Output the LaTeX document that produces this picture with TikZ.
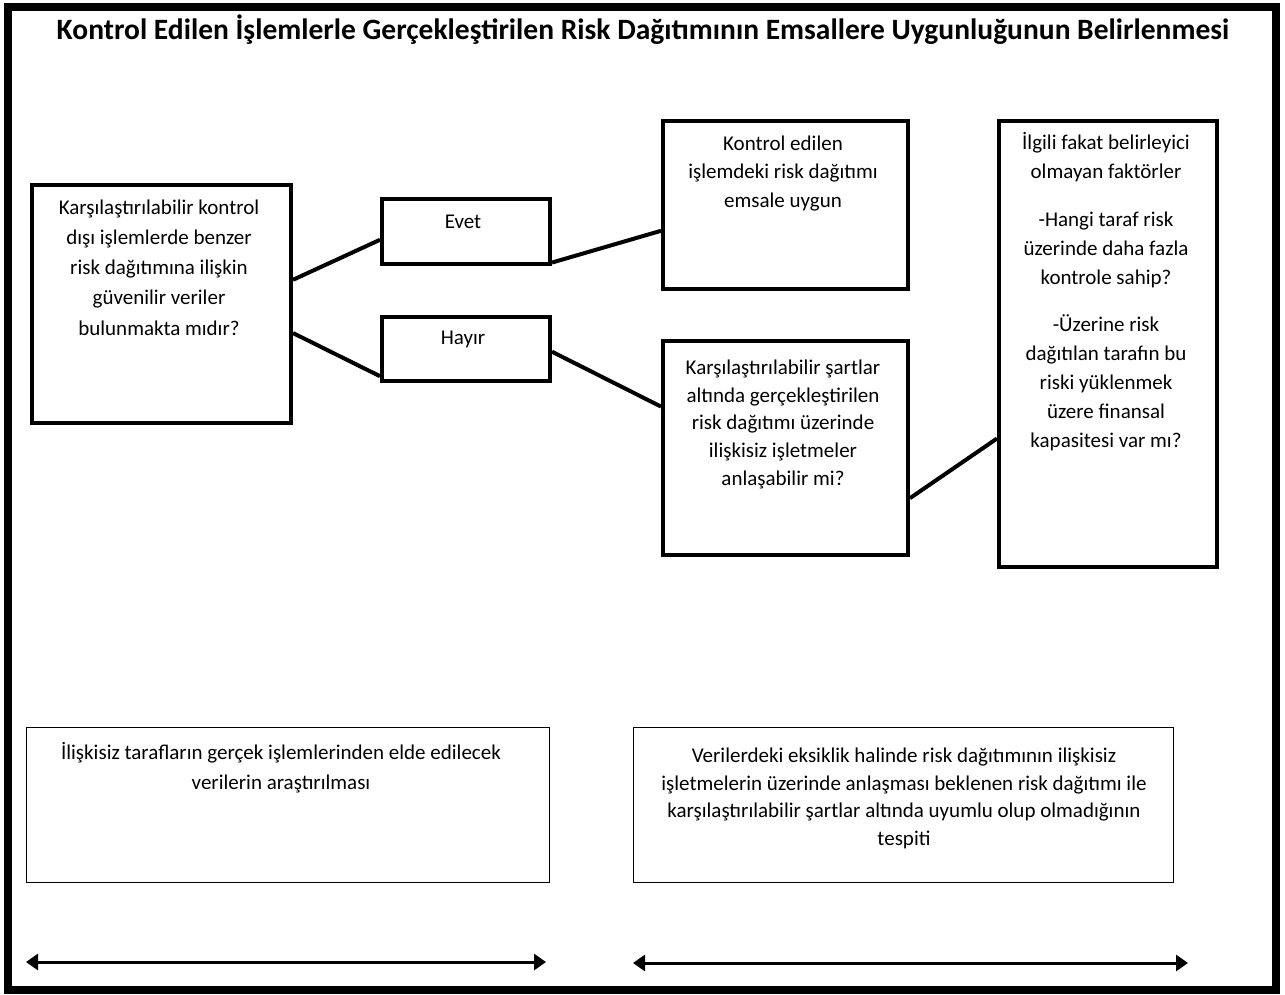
\documentclass[tikz,border=0pt]{standalone}
\usepackage{fontspec}
\setmainfont{Carlito}
\usetikzlibrary{arrows.meta,calc}
\newcommand\firststrut{\rule{0pt}{17pt}}
\begin{document}
\begin{tikzpicture}[x=1pt,y=-1pt,
  thickbox/.style={draw, line width=4pt, inner sep=0pt, anchor=north west},
  thinbox/.style={draw, line width=1pt, inner sep=0pt, anchor=north west},
  txt/.style={anchor=north, align=center, inner sep=0pt, font=\fontsize{21}{28.5}\selectfont},
  conn/.style={line width=4pt},
  dblarrow/.style={line width=3pt, {Triangle[length=12pt,width=16pt]}-{Triangle[length=12pt,width=16pt]}}]
\useasboundingbox (0,0) rectangle (1285,994);
\draw[line width=8pt] (7.5,6.5) rectangle (1275.5,990);
\node[anchor=base, inner sep=0pt, font=\bfseries\fontsize{29.5}{32}\selectfont] (title) at (643,39)
  {Kontrol Edilen İşlemlerle Gerçekleştirilen Risk Dağıtımının Emsallere Uygunluğunun Belirlenmesi};
% boxes
\node[thickbox, minimum width=259pt, minimum height=238pt] (A) at (30,183) {};
\node[thickbox, minimum width=168pt, minimum height=65pt] (evet) at (380,197) {};
\node[thickbox, minimum width=168pt, minimum height=64pt] (hayir) at (380,315) {};
\node[thickbox, minimum width=245pt, minimum height=168pt] (ok) at (661,119) {};
\node[thickbox, minimum width=245pt, minimum height=214pt] (sart) at (661,339) {};
\node[thickbox, minimum width=218pt, minimum height=446pt] (fak) at (997,119) {};
\node[thinbox, minimum width=523pt, minimum height=155pt] (bl) at (26,727) {};
\node[thinbox, minimum width=540pt, minimum height=155pt] (br) at (633,727) {};
% texts
\node[txt, font=\fontsize{21}{30.2}\selectfont] (Atxt) at (159,197) {\firststrut Karşılaştırılabilir kontrol\\ dışı işlemlerde benzer\\ risk dağıtımına ilişkin\\ güvenilir veriler\\ bulunmakta mıdır?};
\node[txt] (evettxt) at (463,211) {\firststrut Evet};
\node[txt] (hayirtxt) at (463,327) {\firststrut Hayır};
\node[txt] (oktxt) at (783,133) {\firststrut Kontrol edilen\\ işlemdeki risk dağıtımı\\ emsale uygun};
\node[txt, font=\fontsize{21}{27.8}\selectfont] (sarttxt) at (783,357) {\firststrut Karşılaştırılabilir şartlar\\ altında gerçekleştirilen\\ risk dağıtımı üzerinde\\ ilişkisiz işletmeler\\ anlaşabilir mi?};
\node[txt, font=\fontsize{21}{29}\selectfont] (faktxt) at (1106,132) {\firststrut İlgili fakat belirleyici\\ olmayan faktörler\\[19pt] -Hangi taraf risk\\ üzerinde daha fazla\\ kontrole sahip?\\[18pt] -Üzerine risk\\ dağıtılan tarafın bu\\ riski yüklenmek\\ üzere finansal\\ kapasitesi var mı?};
\node[txt, font=\fontsize{21}{30}\selectfont] (bltxt) at (281,742) {\firststrut İlişkisiz tarafların gerçek işlemlerinden elde edilecek\\ verilerin araştırılması};
\node[txt, font=\fontsize{21}{27.8}\selectfont] (brtxt) at (904,745) {\firststrut Verilerdeki eksiklik halinde risk dağıtımının ilişkisiz\\ işletmelerin üzerinde anlaşması beklenen risk dağıtımı ile\\ karşılaştırılabilir şartlar altında uyumlu olup olmadığının\\ tespiti};
% connectors
\draw[conn] ($(A.north east)!0.40!(A.south east)$) -- ($(evet.north west)!0.62!(evet.south west)$);
\draw[conn] ($(A.north east)!0.62!(A.south east)$) -- ($(hayir.north west)!0.90!(hayir.south west)$);
\draw[conn] ($(evet.north east)!0.95!(evet.south east)$) -- ($(ok.north west)!0.65!(ok.south west)$);
\draw[conn] ($(hayir.north east)!0.54!(hayir.south east)$) -- ($(sart.north west)!0.31!(sart.south west)$);
\draw[conn] ($(sart.north east)!0.73!(sart.south east)$) -- ($(fak.north west)!0.71!(fak.south west)$);
% bottom arrows
\coordinate (l1) at (26,962);
\coordinate (l2) at (546,962);
\coordinate (r1) at (633,963);
\coordinate (r2) at (1188,963);
\draw[dblarrow] (l1) -- (l2);
\draw[dblarrow] (r1) -- (r2);
\end{tikzpicture}
\end{document}
